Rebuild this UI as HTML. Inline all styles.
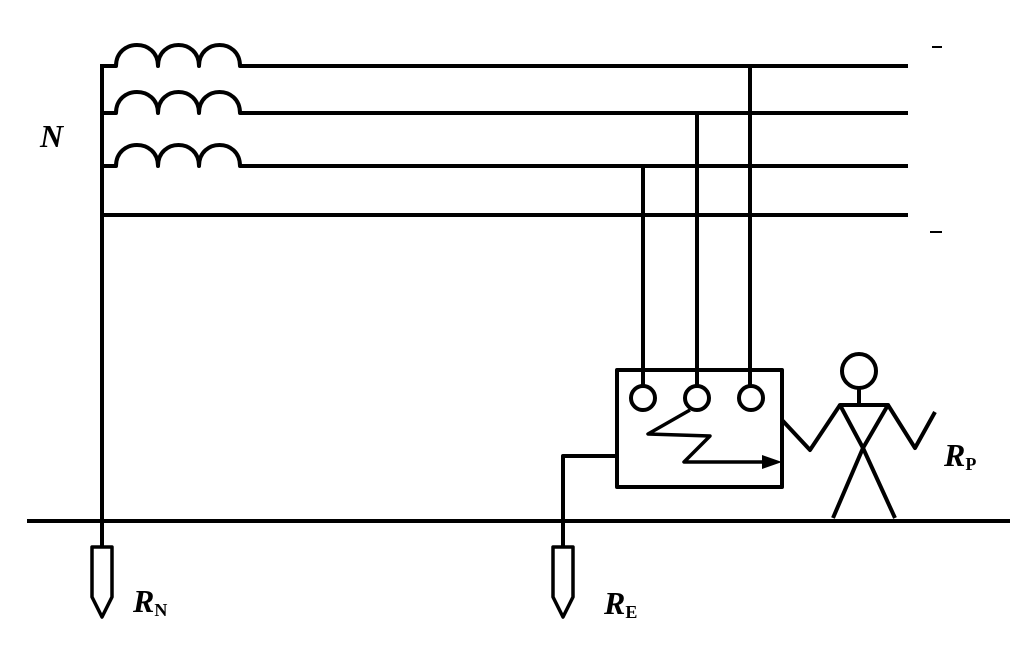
<!DOCTYPE html>
<html><head><style>body{margin:0;background:#fff}svg{display:block}</style></head><body>
<svg width="1022" height="657" viewBox="0 0 1022 657" xmlns="http://www.w3.org/2000/svg">
<rect width="1022" height="657" fill="#fff"/>
<g fill="none" stroke="#000" stroke-width="4" stroke-linejoin="round">
<line x1="102" y1="64" x2="102" y2="548"/>
<g id="c">
<path d="M102 66 H116 C116 38 158 38 158 66 C158 38 199 38 199 66 C199 38 240 38 240 66 H908"/>
</g>
<path d="M102 113 H116 C116 85 158 85 158 113 C158 85 199 85 199 113 C199 85 240 85 240 113 H908"/>
<path d="M102 166 H116 C116 138 158 138 158 166 C158 138 199 138 199 166 C199 138 240 138 240 166 H908"/>
<line x1="102" y1="215" x2="908" y2="215"/>
<line x1="750" y1="66" x2="750" y2="386"/>
<line x1="697" y1="113" x2="697" y2="386"/>
<line x1="643" y1="166" x2="643" y2="386"/>
<rect x="617" y="370" width="165" height="117"/>
<circle cx="643" cy="398" r="12" fill="#fff"/>
<circle cx="697" cy="398" r="12" fill="#fff"/>
<circle cx="751" cy="398" r="12" fill="#fff"/>
<path d="M690 410 L648 434 L710 436 L684 462 L765 462" stroke-width="3.5"/>
<path d="M563 548 V456 H617"/>
<line x1="27" y1="521" x2="1010" y2="521"/>
<path d="M92 547 H112 V597 L102 617 L92 597 Z" stroke-width="3.5"/>
<path d="M553 547 H573 V597 L563 617 L553 597 Z" stroke-width="3.5"/>
<circle cx="859" cy="371" r="17"/>
<line x1="859" y1="388" x2="859" y2="405"/>
<path d="M840 405 H888 L863 448 Z"/>
<path d="M833 518 L863 448 L895 518"/>
<path d="M782 420 L810 450 L840 405"/>
<path d="M888 405 L915 448 L935 412"/>
</g>
<path d="M762 455 L782 462 L762 469 Z" fill="#000"/>
<line x1="932" y1="47" x2="942" y2="47" stroke="#000" stroke-width="2"/>
<line x1="930" y1="232" x2="942" y2="232" stroke="#000" stroke-width="2"/>
<g font-family="Liberation Serif, serif" font-style="italic" font-weight="bold" fill="#000">
<text x="40" y="147" font-size="32">N</text>
<text x="133" y="612" font-size="32">R<tspan font-size="18" font-style="normal" dy="4">N</tspan></text>
<text x="604" y="614" font-size="32">R<tspan font-size="18" font-style="normal" dy="4">E</tspan></text>
<text x="944" y="466" font-size="32">R<tspan font-size="18" font-style="normal" dy="4">P</tspan></text>
</g>
</svg>
</body></html>
